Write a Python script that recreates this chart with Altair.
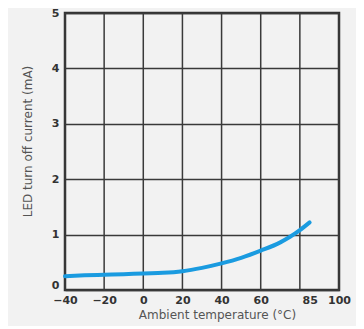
import altair as alt
import pandas as pd

temps = [-40, -30, -20, -10, 0, 10, 20, 30, 40, 50, 60, 70, 75, 80, 85]
current = [0.25, 0.265, 0.275, 0.285, 0.30, 0.31, 0.34, 0.40, 0.48, 0.58, 0.71, 0.86, 0.96, 1.08, 1.22]
x_grid = [-40, -20, 0, 20, 40, 60, 80, 100]
x_labels = [-40, -20, 0, 20, 40, 60, 85, 100]
y_ticks = [0, 1, 2, 3, 4, 5]

df = pd.DataFrame({"t": temps, "i": current})

xscale = alt.Scale(domain=[-40, 100], nice=False, zero=False)
yscale = alt.Scale(domain=[0, 5], nice=False)

xaxis = alt.Axis(values=x_labels, grid=False, ticks=False, domain=False,
                 labelFontSize=11, labelFontWeight="bold", labelColor="#333",
                 labelPadding=4, labelFlush=False,
                 title="Ambient  temperature  (°C)", titleFontSize=12,
                 titleFontWeight="normal", titleColor="#555", titlePadding=4,
                 titleX=152)

line = alt.Chart(df).mark_line(color="#1a9be0", strokeWidth=4, strokeCap="round", interpolate="monotone").encode(
    x=alt.X("t:Q", scale=xscale, axis=xaxis),
    y=alt.Y("i:Q", scale=yscale,
            axis=alt.Axis(values=y_ticks, grid=True, gridColor="#3a3a3a", gridWidth=1.5,
                          gridOpacity=1, ticks=False, domain=False,
                          labelFontSize=11, labelFontWeight="bold", labelColor="#333",
                          labelPadding=6,
                          labelOffset=alt.ExprRef("datum.value == 0 ? -5 : 0"),
                          title="LED  turn  off  current  (mA)", titleFontSize=12,
                          titleFontWeight="normal", titleColor="#555", titlePadding=17,
                          titleY=128)),
)

grid_df = pd.DataFrame({"g": x_grid})
vgrid = alt.Chart(grid_df).mark_rule(color="#3a3a3a", strokeWidth=1.5).encode(
    x=alt.X("g:Q", scale=xscale, axis=xaxis)
)

chart = alt.layer(vgrid, line).properties(
    width=274, height=277,
    background="#f2f2f2",
    padding={"left": 57, "top": 5, "right": 17, "bottom": 36},
    autosize=alt.AutoSizeParams(type="none"),
).configure_view(stroke="#333333", strokeWidth=2.5).configure_axis(
    labelFont="DejaVu Sans", titleFont="DejaVu Sans"
)

chart.save("out.html", embed_options={"renderer": "svg", "actions": False})
